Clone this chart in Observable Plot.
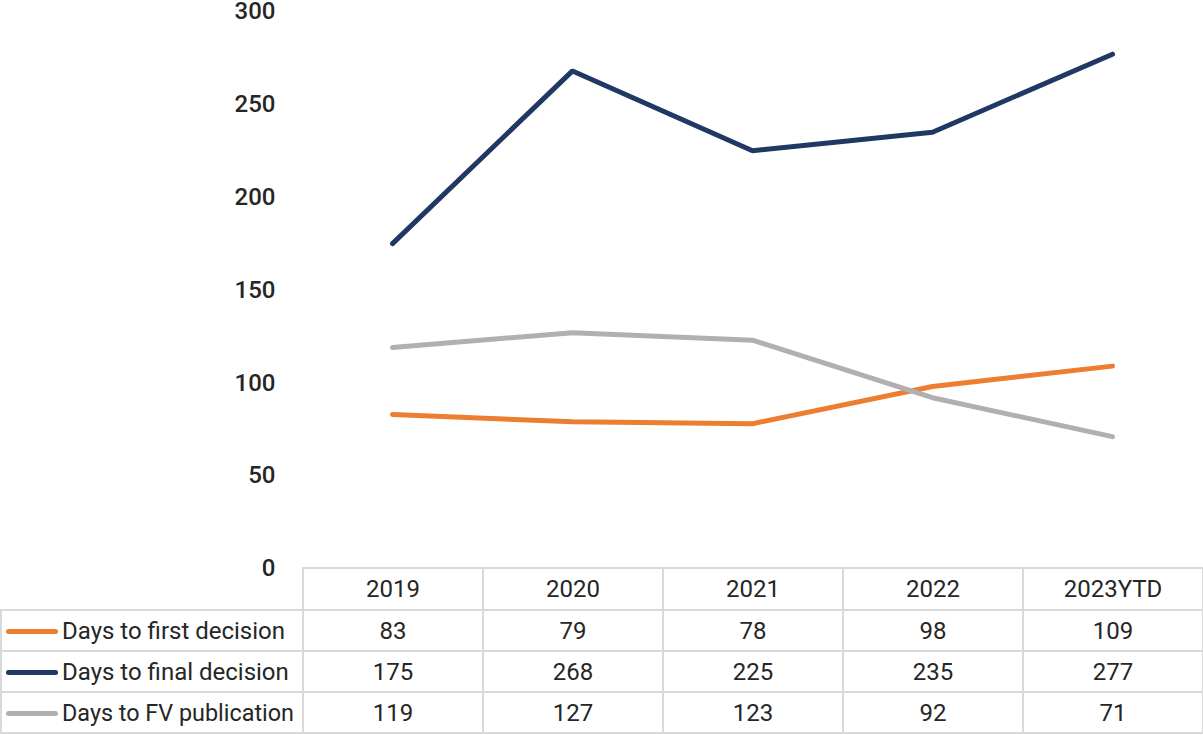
<!DOCTYPE html>
<html><head><meta charset="utf-8">
<script src="https://cdn.jsdelivr.net/npm/d3@7"></script>
<script src="https://cdn.jsdelivr.net/npm/@observablehq/plot@0.6"></script>
<style>
  body{margin:0;background:#fff;font-family:Roboto,"Noto Sans",sans-serif;color:#262626;}
  #wrap{position:relative;width:1203px;height:735px;overflow:hidden;}
  #chart svg{display:block;overflow:visible;}
  table{position:absolute;left:0;top:567px;border-collapse:collapse;table-layout:fixed;width:1203px;}
  td{border:2px solid #d9d9d9;font-size:24px;text-align:center;padding:0;height:39px;white-space:nowrap;overflow:visible;background:#fff;}
  tr.head td{height:40px;}
  tr.head td.blank{border-top:none;border-left:none;background:transparent;}
  td.lab{text-align:left;padding-left:4px;}
  td.lab .t{display:inline-block;transform-origin:left center;vertical-align:middle;}
  .sw{display:inline-block;width:52px;height:5px;border-radius:3px;vertical-align:middle;margin-right:4px;position:relative;top:0px;}
</style>
</head><body>
<div id="wrap"><div id="chart"></div><table id="tbl"></table></div>
<script>
const years = ["2019","2020","2021","2022","2023YTD"];
const firstDecision = [83,79,78,98,109];
const finalDecision = [175,268,225,235,277];
const fvPublication = [119,127,123,92,71];
const seriesNames = ["Days to first decision","Days to final decision","Days to FV publication"];
const seriesColors = ["#ED7D31","#1F3864","#B0B0B0"];
const yTicks = [0,50,100,150,200,250,300];

const seriesValues = [firstDecision, finalDecision, fvPublication];
const data = seriesValues.flatMap((vals, s) => vals.map((v, i) => ({year: years[i], value: v, series: seriesNames[s]})));

const chart = Plot.plot({
  width: 1203,
  height: 600,
  marginLeft: 302,
  marginRight: 1,
  marginTop: 11,
  marginBottom: 32,
  style: {fontFamily: 'Roboto,"Noto Sans",sans-serif', background: "#fff", overflow: "visible"},
  x: {type: "point", domain: years, padding: 0.5, axis: null},
  y: {domain: [0, 300], axis: null},
  color: {domain: seriesNames, range: seriesColors},
  marks: [
    Plot.ruleY(yTicks, {stroke: "#d9d9d9", strokeWidth: 2, x1: 302, x2: 1203}),
    Plot.axisY({ticks: yTicks, tickSize: 0, tickPadding: 27, fontSize: 24, fontWeight: 500, fill: "#262626", label: null}),
    ...seriesNames.map(name => Plot.line(data.filter(d => d.series === name), {
      x: "year", y: "value", stroke: "series", strokeWidth: 5, strokeLinecap: "round", strokeLinejoin: "miter"
    }))
  ]
});
document.getElementById("chart").appendChild(chart);

const tbl = document.getElementById("tbl");
let html = '<colgroup><col style="width:302px">' + years.map(() => '<col style="width:180px">').join("") + '</colgroup>';
html += '<tr class="head"><td class="blank"></td>' + years.map(y => `<td>${y}</td>`).join("") + '</tr>';
seriesNames.forEach((name, s) => {
  html += `<tr><td class="lab"><span class="sw" style="background:${seriesColors[s]}"></span><span class="t">${name}</span></td>` +
    seriesValues[s].map(v => `<td>${v}</td>`).join("") + '</tr>';
});
tbl.innerHTML = html;
// fit the series labels into the label column (reference uses a condensed face)
document.querySelectorAll("td.lab .t").forEach(el => {
  const w = el.getBoundingClientRect().width;
  const target = 234 * el.textContent.length / "Days to FV publication".length;
  el.style.transform = `scaleX(${Math.min(1, 232 / w)})`;
});
</script>
</body></html>
